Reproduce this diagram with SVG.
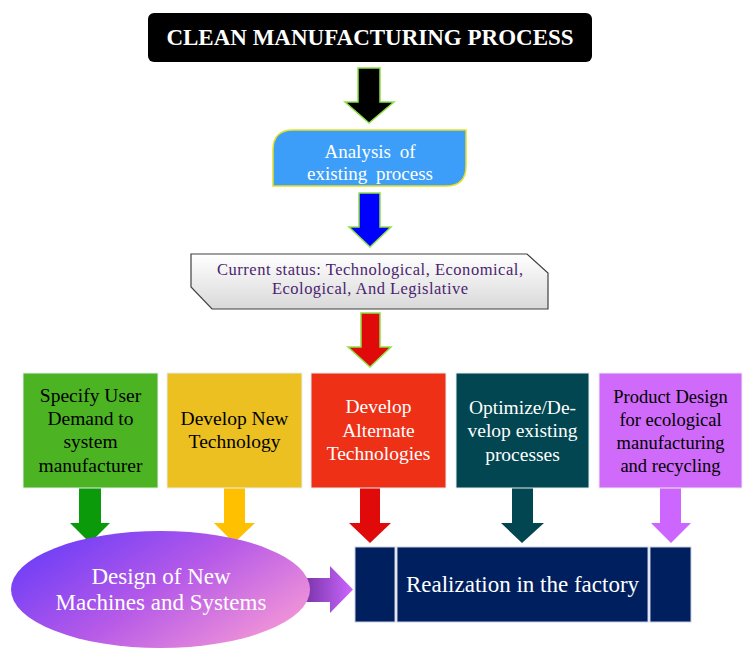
<svg xmlns="http://www.w3.org/2000/svg" width="755" height="660" viewBox="0 0 755 660">
<defs>
<linearGradient id="gStatus" x1="0" y1="0" x2="0" y2="1">
<stop offset="0" stop-color="#ffffff"/>
<stop offset="1" stop-color="#d9d9d9"/>
</linearGradient>
<linearGradient id="gEll" x1="0" y1="0.2" x2="1" y2="0.8">
<stop offset="0" stop-color="#6a3cf8"/>
<stop offset="0.5" stop-color="#b65ae8"/>
<stop offset="1" stop-color="#f79ad6"/>
</linearGradient>
<linearGradient id="gArr" x1="0" y1="0" x2="1" y2="0">
<stop offset="0" stop-color="#7030a0"/>
<stop offset="1" stop-color="#cc66ff"/>
</linearGradient>
</defs>
<style>
.t{font-family:"Liberation Serif","Times New Roman",serif;text-anchor:middle}
.w{fill:#ffffff}
.k{fill:#000000}
.box{stroke:#e8eef0;stroke-width:1}
.garr{stroke:#8ee04a;stroke-width:1.5}
.seg{fill:#001f5f;stroke:#c8cce0;stroke-width:1}
</style>
<rect width="755" height="660" fill="#ffffff"/>

<g id="connectors">
<path class="garr" fill="#000000" d="M358,68 H380 V102 H394 L369,123 L345,102 H358 Z"/>
<path class="garr" fill="#0000ff" d="M359,193 H380 V227 H391 L370,247 L349,227 H359 Z"/>
<path class="garr" fill="#e00a0a" d="M361,313 H380 V347 H391 L370,367 L348,347 H361 Z"/>
<path fill="#0a9a0a" d="M79,488 H101 V523 H110 L90,543 L70,523 H79 Z"/>
<path fill="#ffc000" d="M224,488 H245 V523 H255 L234,543 L214,523 H224 Z"/>
<path fill="#e00a0a" d="M360,488 H380 V523 H391 L370,543 L349,523 H360 Z"/>
<path fill="#014650" d="M512,488 H533 V523 H544 L522,543 L501,523 H512 Z"/>
<path fill="#cc66ff" d="M660,488 H681 V523 H691 L671,543 L651,523 H660 Z"/>
<g id="striped-arrow">
<rect x="292" y="578" width="2" height="24" fill="#7030a0"/>
<rect x="296" y="578" width="2" height="24" fill="#7a38a8"/>
<path fill="url(#gArr)" d="M300,578 H330 V566 L353,589.5 L330,613 V602 H300 Z"/>
</g>
</g>

<g id="title">
<rect x="148" y="13" width="444" height="49" rx="6" fill="#000000"/>
<text class="t w" x="370" y="45" font-size="23" font-weight="bold">CLEAN MANUFACTURING PROCESS</text>
</g>

<g id="analysis">
<path d="M293,130 H466 V166 Q466,186 446,186 H273 V150 Q273,130 293,130 Z" fill="#3c9ef8" stroke="#e6e020" stroke-width="1.5"/>
<text class="t w" x="370" y="158" font-size="19" word-spacing="4">Analysis of</text>
<text class="t w" x="370" y="180" font-size="19" word-spacing="4">existing process</text>
</g>

<g id="status">
<path d="M191,254 H527 L548,273 V309 H212 L191,287 Z" fill="url(#gStatus)" stroke="#404040" stroke-width="1.2"/>
<text class="t" x="370" y="275" font-size="16.5" fill="#4b1f6f" textLength="306" lengthAdjust="spacing">Current status: Technological, Economical,</text>
<text class="t" x="370" y="294" font-size="16.5" fill="#4b1f6f" textLength="196" lengthAdjust="spacing">Ecological, And Legislative</text>
</g>

<g id="specify">
<rect class="box" x="23" y="373" width="135" height="115" fill="#4cb322"/>
<text class="t k" font-size="19.5" x="90.5" y="402">Specify User</text>
<text class="t k" font-size="19.5" x="90.5" y="425">Demand to</text>
<text class="t k" font-size="19.5" x="90.5" y="448">system</text>
<text class="t k" font-size="19.5" x="90.5" y="472">manufacturer</text>
</g>

<g id="develop-new">
<rect class="box" x="167" y="373" width="135" height="115" fill="#ebc020"/>
<text class="t k" font-size="19.5" x="234.5" y="425">Develop New</text>
<text class="t k" font-size="19.5" x="234.5" y="448">Technology</text>
</g>

<g id="develop-alt">
<rect class="box" x="311" y="373" width="135" height="115" fill="#ee3017"/>
<text class="t w" font-size="19.5" x="378.5" y="413">Develop</text>
<text class="t w" font-size="19.5" x="378.5" y="437">Alternate</text>
<text class="t w" font-size="19.5" x="378.5" y="460">Technologies</text>
</g>

<g id="optimize">
<rect class="box" x="456" y="373" width="133" height="115" fill="#014650"/>
<text class="t w" font-size="19.5" x="522.5" y="414">Optimize/De-</text>
<text class="t w" font-size="19.5" x="522.5" y="437">velop existing</text>
<text class="t w" font-size="19.5" x="522.5" y="461">processes</text>
</g>

<g id="product-design">
<rect class="box" x="599" y="373" width="143" height="115" fill="#cf6afa"/>
<text class="t k" font-size="18.5" x="670.5" y="403">Product Design</text>
<text class="t k" font-size="18.5" x="670.5" y="426">for ecological</text>
<text class="t k" font-size="18.5" x="670.5" y="449">manufacturing</text>
<text class="t k" font-size="18.5" x="670.5" y="472">and recycling</text>
</g>

<g id="design-machines">
<ellipse cx="160.5" cy="589.5" rx="149.5" ry="58.5" fill="url(#gEll)"/>
<text class="t w" font-size="23" x="161" y="584">Design of New</text>
<text class="t w" font-size="23" x="161" y="610">Machines and Systems</text>
</g>

<g id="realization">
<rect class="seg" x="355" y="547" width="40" height="75"/>
<rect class="seg" x="397" y="547" width="251" height="75"/>
<rect class="seg" x="650" y="547" width="41" height="75"/>
<text class="t w" font-size="23" x="522.5" y="592">Realization in the factory</text>
</g>
</svg>
